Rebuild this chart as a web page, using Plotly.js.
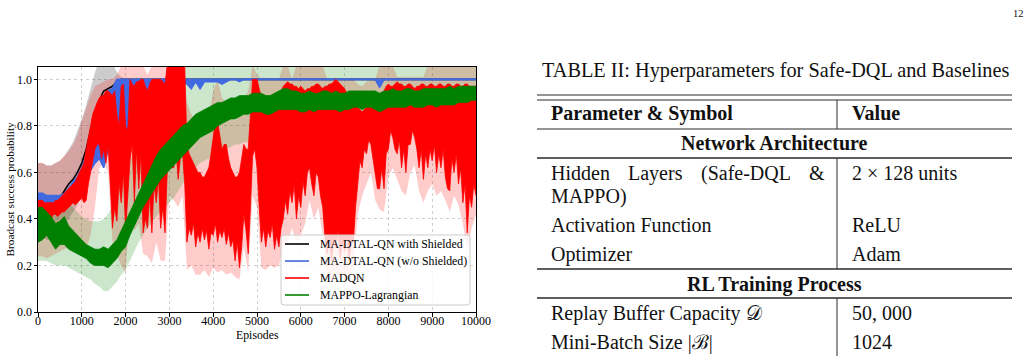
<!DOCTYPE html>
<html>
<head>
<meta charset="utf-8">
<script src="https://cdn.plot.ly/plotly-3.0.1.min.js"></script>
<style>
  html, body { margin: 0; padding: 0; background: #ffffff; }
  #page { width: 1032px; height: 356px; }
</style>
</head>
<body>
<div id="page"></div>
<script>
// Broadcast success probability over training.
// Most curves are sampled every 100 episodes; the very noisy MADQN edges every 50.
const STEP = 100;
const FINE_STEP = 50;

// MA-DTAL-QN with Shielded: mean curve and its spread
const shieldedMean = [
  .47,.47,.46,.46,.47,.49,.52,.55,.57,.60,
  .64,.70,.78,.85,.91,.95,.96,.97,.99,1.0,
  1.0,1.0,1.0,1.0,1.0,1.0,1.0,1.0,1.0,1.0,
  1.0,1.0,1.0,1.0,1.0,1.0,1.0,1.0,1.0,1.0,
  1.0,1.0,1.0,1.0,1.0,1.0,1.0,1.0,1.0,1.0,
  1.0,1.0,1.0,1.0,1.0,1.0,1.0,1.0,1.0,1.0,
  1.0,1.0,1.0,1.0,1.0,1.0,1.0,1.0,1.0,1.0,
  1.0,1.0,1.0,1.0,1.0,1.0,1.0,1.0,1.0,1.0,
  1.0,1.0,1.0,1.0,1.0,1.0,1.0,1.0,1.0,1.0,
  1.0,1.0,1.0,1.0,1.0,1.0,1.0,1.0,1.0,1.0,1.0
];
const shieldedBandHi = [
  .64,.64,.63,.63,.64,.65,.67,.70,.73,.78,
  .83,.89,.96,1.03,1.08,1.08,1.08,1.07,1.03,1.01,
  1.0,1.0,1.0,1.0,1.0,1.0,1.0,1.0,1.0,1.0,
  1.0,1.0,1.0,1.0,1.0,1.0,1.0,1.0,1.0,1.0,
  1.0,1.0,1.0,1.0,1.0,1.0,1.0,1.0,1.0,1.0,
  1.0,1.0,1.0,1.0,1.0,1.0,1.0,1.0,1.0,1.0,
  1.0,1.0,1.0,1.0,1.0,1.0,1.0,1.0,1.0,1.0,
  1.0,1.0,1.0,1.0,1.0,1.0,1.0,1.0,1.0,1.0,
  1.0,1.0,1.0,1.0,1.0,1.0,1.0,1.0,1.0,1.0,
  1.0,1.0,1.0,1.0,1.0,1.0,1.0,1.0,1.0,1.0,1.0
];
const shieldedBandLo = [
  .32,.32,.31,.31,.32,.34,.37,.40,.43,.46,
  .50,.55,.62,.69,.76,.83,.87,.90,.95,.99,
  1.0,1.0,1.0,1.0,1.0,1.0,1.0,1.0,1.0,1.0,
  1.0,1.0,1.0,1.0,1.0,1.0,1.0,1.0,1.0,1.0,
  1.0,1.0,1.0,1.0,1.0,1.0,1.0,1.0,1.0,1.0,
  1.0,1.0,1.0,1.0,1.0,1.0,1.0,1.0,1.0,1.0,
  1.0,1.0,1.0,1.0,1.0,1.0,1.0,1.0,1.0,1.0,
  1.0,1.0,1.0,1.0,1.0,1.0,1.0,1.0,1.0,1.0,
  1.0,1.0,1.0,1.0,1.0,1.0,1.0,1.0,1.0,1.0,
  1.0,1.0,1.0,1.0,1.0,1.0,1.0,1.0,1.0,1.0,1.0
];

// MA-DTAL-QN (w/o Shielded): upper and lower edge of the noisy curve
const unshieldedHi = [
  .51,.51,.50,.50,.50,.50,.51,.53,.56,.58,
  .62,.67,.74,.81,.88,.93,.95,.96,1.0,1.0,
  1.0,1.0,1.0,1.0,1.0,1.0,1.0,1.0,1.0,1.0,
  1.0,1.0,1.0,1.0,1.0,1.0,1.0,1.0,1.0,1.0,
  1.0,1.0,1.0,1.0,1.0,1.0,1.0,1.0,1.0,1.0,
  1.0,1.0,1.0,1.0,1.0,1.0,1.0,1.0,1.0,1.0,
  1.0,1.0,1.0,1.0,1.0,1.0,1.0,1.0,1.0,1.0,
  1.0,1.0,1.0,1.0,1.0,1.0,1.0,1.0,1.0,1.0,
  1.0,1.0,1.0,1.0,1.0,1.0,1.0,1.0,1.0,1.0,
  1.0,1.0,1.0,1.0,1.0,1.0,1.0,1.0,1.0,1.0,1.0
];
const unshieldedLo = [
  .46,.46,.46,.45,.46,.47,.48,.50,.52,.54,
  .56,.58,.61,.64,.66,.62,.70,.72,.68,.74,
  .77,.80,.72,.76,.82,.76,.88,.92,.95,.97,
  .98,.99,.99,.99,.98,.96,.99,.96,.99,.99,
  .99,.99,.98,.99,1.0,1.0,.99,1.0,1.0,1.0,
  1.0,1.0,1.0,1.0,1.0,1.0,1.0,1.0,1.0,1.0,
  1.0,1.0,1.0,1.0,1.0,1.0,1.0,1.0,1.0,1.0,
  1.0,1.0,1.0,1.0,1.0,1.0,1.0,1.0,.965,1.0,
  1.0,1.0,1.0,1.0,1.0,1.0,1.0,1.0,1.0,1.0,
  1.0,1.0,1.0,1.0,1.0,1.0,1.0,1.0,1.0,1.0,1.0
];

// MADQN: upper and lower edge of the noisy curve (every 50 episodes)
const madqnHi = [
  .48,.48,.48,.47,.47,.47,.47,.47,.48,.48,
  .49,.50,.51,.52,.53,.54,.55,.56,.58,.60,
  .62,.64,.70,.76,.80,.85,.88,.90,.92,.93,
  .93,.95,.95,.94,.93,.95,.85,.80,.97,.98,
  .80,.78,1.0,.98,.97,.99,.99,1.0,1.0,.97,
  .95,.98,1.0,1.0,1.0,1.0,1.0,.99,.98,1.06,
  1.06,1.06,1.06,1.06,1.06,1.06,1.06,1.06,.72,.68,
  .66,.64,.62,.60,.60,.58,.58,.60,.62,.68,
  .75,.82,.82,.75,.70,.72,.72,.66,.62,.60,
  .58,.58,.60,.66,.72,.70,.70,.85,1.0,1.0,
  1.0,.96,.92,.90,.90,.89,.90,.91,.92,.93,
  .93,.95,.97,.98,.99,.98,.98,.97,.97,.96,
  .97,.96,.95,.96,.96,.97,.97,.98,.98,.97,
  .96,.97,.97,.98,.98,.99,1.0,.99,.98,.97,
  .96,.94,.93,.94,.95,.92,.88,.87,.86,.87,
  .88,.90,.92,.91,.90,.92,.93,.94,.95,.97,
  .98,.97,.97,.98,.99,.98,.98,.97,.97,.98,
  .98,.97,.96,.97,.97,.98,.98,.97,.97,.98,
  .98,.97,.97,.98,.98,.97,.97,.98,.98,.97,
  .97,.98,.98,.97,.97,.98,.98,.97,.97,.97,
  .97
];
const madqnLo = [
  .41,.40,.40,.41,.40,.41,.40,.42,.42,.41,
  .42,.43,.43,.44,.45,.46,.47,.46,.47,.48,
  .49,.47,.48,.55,.60,.66,.70,.72,.72,.66,
  .70,.64,.72,.55,.36,.45,.39,.55,.47,.60,
  .35,.50,.65,.72,.47,.70,.53,.68,.34,.40,
  .36,.50,.34,.55,.47,.58,.36,.45,.34,.60,
  .68,.62,.62,.70,.57,.66,.68,.55,.30,.36,
  .33,.38,.28,.34,.30,.36,.31,.35,.27,.34,
  .33,.38,.30,.35,.32,.36,.29,.34,.28,.31,
  .22,.30,.19,.28,.42,.35,.25,.45,.67,.70,
  .62,.45,.30,.36,.28,.35,.32,.38,.27,.33,
  .28,.36,.40,.48,.42,.52,.47,.55,.40,.50,
  .45,.56,.50,.60,.62,.55,.50,.60,.58,.50,
  .45,.33,.25,.32,.22,.30,.28,.35,.23,.30,
  .26,.33,.22,.30,.30,.45,.55,.65,.62,.70,
  .68,.74,.72,.66,.60,.53,.53,.62,.53,.68,
  .70,.78,.75,.70,.68,.74,.62,.70,.60,.72,
  .72,.78,.75,.70,.62,.70,.57,.68,.62,.70,
  .65,.72,.60,.68,.62,.70,.58,.53,.52,.66,
  .60,.68,.55,.62,.47,.55,.34,.50,.45,.55,
  .50
];
// MADQN spread (every 100 episodes)
const madqnBandHi = [
  .64,.64,.63,.63,.64,.65,.67,.69,.72,.76,
  .82,.88,.93,.97,.98,.99,1.0,1.0,1.02,1.06,
  1.06,1.06,1.06,1.06,1.06,1.02,1.06,1.06,1.06,1.06,
  1.06,1.06,1.06,1.06,.90,.85,.82,.80,.80,.84,
  .95,1.0,.92,.90,.85,.82,.85,.92,.95,1.06,
  1.02,1.0,1.0,1.0,1.0,1.0,1.06,1.06,1.0,1.06,
  1.06,1.06,1.06,1.06,1.06,1.06,1.0,1.0,1.0,1.0,
  1.0,1.0,1.0,.98,.97,.99,1.0,1.0,1.06,1.06,
  1.06,1.06,1.01,1.01,1.01,1.01,1.01,1.01,1.01,1.06,
  1.06,1.06,1.06,1.06,1.06,1.06,1.06,1.06,1.06,1.06,1.06
];
const madqnBandLo = [
  .24,.24,.23,.24,.25,.26,.27,.28,.30,.30,
  .28,.27,.33,.45,.62,.64,.60,.30,.25,.20,
  .17,.45,.35,.38,.25,.24,.21,.30,.22,.22,
  .50,.48,.45,.50,.18,.20,.16,.16,.18,.15,
  .19,.17,.18,.16,.17,.15,.14,.28,.17,.50,
  .45,.19,.18,.20,.19,.20,.28,.30,.36,.30,
  .33,.38,.48,.40,.45,.33,.15,.12,.17,.13,
  .15,.13,.20,.42,.50,.55,.60,.48,.44,.43,
  .58,.62,.57,.52,.50,.60,.63,.52,.47,.52,
  .55,.50,.52,.48,.43,.50,.46,.38,.27,.36,.42
];

// MAPPO-Lagrangian: edges of the noisy curve and of its spread
const mappoHi = [
  .45,.45,.43,.41,.38,.39,.41,.37,.35,.33,
  .31,.29,.28,.27,.27,.28,.27,.29,.31,.35,
  .39,.43,.47,.51,.55,.59,.63,.67,.70,.72,
  .74,.76,.78,.80,.81,.83,.85,.86,.87,.88,
  .89,.90,.90,.91,.92,.92,.93,.93,.93,.94,
  .94,.94,.93,.93,.94,.95,.96,.96,.95,.95,
  .94,.94,.95,.94,.94,.95,.95,.94,.95,.94,
  .94,.95,.95,.95,.95,.95,.95,.95,.94,.95,
  .95,.96,.95,.95,.96,.96,.95,.95,.96,.96,
  .96,.96,.96,.96,.97,.96,.97,.97,.97,.97,.97
];
const mappoLo = [
  .30,.31,.33,.30,.27,.29,.29,.27,.26,.25,
  .24,.23,.21,.20,.20,.20,.19,.21,.23,.26,
  .28,.33,.37,.41,.45,.48,.51,.54,.57,.59,
  .61,.63,.65,.67,.69,.71,.73,.75,.76,.77,
  .78,.80,.81,.82,.83,.83,.84,.85,.85,.86,
  .86,.86,.85,.85,.86,.87,.87,.87,.87,.87,
  .86,.86,.87,.86,.87,.87,.87,.87,.87,.86,
  .87,.87,.88,.88,.87,.88,.88,.87,.86,.87,
  .88,.88,.88,.88,.88,.89,.88,.88,.88,.89,
  .89,.88,.89,.89,.89,.89,.90,.90,.90,.91,.91
];
const mappoBandHi = [
  .50,.51,.50,.49,.48,.48,.49,.47,.45,.43,
  .41,.40,.39,.39,.39,.40,.42,.46,.51,.56,
  .61,.65,.69,.73,.77,.81,.85,.89,.93,.96,
  .99,1.02,1.04,1.06,1.06,1.06,1.06,1.06,1.06,1.06,
  1.06,1.06,1.06,1.06,1.06,1.06,1.06,1.06,1.06,1.06,
  1.06,1.06,1.06,1.06,1.06,1.06,1.06,1.06,1.06,1.06,
  1.06,1.06,1.06,1.06,1.06,1.06,1.06,1.06,1.06,1.06,
  1.06,1.06,1.06,1.06,1.06,1.06,1.06,1.06,1.06,1.06,
  1.06,1.06,1.06,1.06,1.06,1.06,1.06,1.06,1.06,1.06,
  1.06,1.06,1.06,1.06,1.06,1.06,1.06,1.06,1.06,1.06,1.06
];
const mappoBandLo = [
  .22,.22,.22,.21,.20,.20,.20,.19,.18,.17,
  .16,.15,.14,.12,.11,.09,.09,.11,.13,.16,
  .18,.22,.26,.30,.33,.36,.39,.41,.43,.45,
  .47,.49,.52,.55,.58,.60,.62,.64,.65,.66,
  .67,.68,.69,.70,.71,.72,.72,.73,.73,.74,
  .74,.74,.74,.75,.75,.75,.76,.76,.76,.76,
  .76,.76,.77,.77,.77,.77,.77,.77,.77,.77,
  .77,.78,.78,.78,.78,.78,.78,.78,.78,.78,
  .78,.79,.79,.79,.79,.79,.79,.80,.80,.80,
  .80,.80,.80,.80,.81,.81,.81,.81,.81,.81,.81
];

const seriesNames = ["MA-DTAL-QN with Shielded", "MA-DTAL-QN (w/o Shielded)", "MADQN", "MAPPO-Lagrangian"];
const xTicks = [0, 1000, 2000, 3000, 4000, 5000, 6000, 7000, 8000, 9000, 10000];
const yTicks = [0.0, 0.2, 0.4, 0.6, 0.8, 1.0];
const xTitle = "Episodes";
const yTitle = "Broadcast success probability";

// Table content
const tableCaption = "TABLE II: Hyperparameters for Safe-DQL and Baselines";
const tableHeader = ["Parameter & Symbol", "Value"];
const tableSections = ["Network Architecture", "RL Training Process"];
const paramNames = ["Hidden Layers (Safe-DQL &", "MAPPO)", "Activation Function", "Optimizer", "Replay Buffer Capacity \u{1D49F}", "Mini-Batch Size |\u212C|"];
const paramValues = ["2 \u00D7 128 units", "", "ReLU", "Adam", "50, 000", "1024"];
const pageNumber = "12";

// ---------------------------------------------------------------------------
const episodes = shieldedMean.map((_, i) => i * STEP);
const fineEpisodes = madqnLo.map((_, i) => i * FINE_STEP);
const SERIF = "Liberation Serif, Times New Roman, serif";
const COLORS = { shielded: "#000000", unshielded: "#4169e1", madqn: "#ff0000", mappo: "#008000" };

function bandTraces(lo, hi, fill) {
  return [
    { x: episodes, y: lo, mode: "lines", line: { width: 0 }, showlegend: false, hoverinfo: "skip" },
    { x: episodes, y: hi, mode: "lines", line: { width: 0 }, fill: "tonexty", fillcolor: fill, showlegend: false, hoverinfo: "skip" }
  ];
}
function envelopeTraces(xs, lo, hi, color, width) {
  return [
    { x: xs, y: lo, mode: "lines", line: { color: color, width: width }, showlegend: false, hoverinfo: "skip" },
    { x: xs, y: hi, mode: "lines", line: { color: color, width: width }, fill: "tonexty", fillcolor: color, showlegend: false, hoverinfo: "skip" }
  ];
}

const traces = [].concat(
  bandTraces(shieldedBandLo, shieldedBandHi, "rgba(0,0,0,0.2)"),
  bandTraces(madqnBandLo, madqnBandHi, "rgba(255,0,0,0.2)"),
  bandTraces(mappoBandLo, mappoBandHi, "rgba(0,128,0,0.2)"),
  [{ x: episodes, y: shieldedMean, mode: "lines", line: { color: COLORS.shielded, width: 1.6 }, showlegend: false, hoverinfo: "skip" }],
  envelopeTraces(episodes, unshieldedLo, unshieldedHi, COLORS.unshielded, 1.6),
  envelopeTraces(fineEpisodes, madqnLo, madqnHi, COLORS.madqn, 0.8),
  envelopeTraces(episodes, mappoLo, mappoHi, COLORS.mappo, 0.8)
);

// Page geometry (pixels) and conversion into the chart's paper coordinates
const W = 1032, H = 356;
const PLOT = { left: 38, right: 476, top: 67, bottom: 312 };
const px = (x) => (x - PLOT.left) / (PLOT.right - PLOT.left);
const py = (y) => (PLOT.bottom - y) / (PLOT.bottom - PLOT.top);

const TXT = "#111111";
const RULE = "#2a2a2a";
const TABLE = { left: 537, right: 1012, split: 837, textL: 549, textR: 850 };

function hline(y, w) {
  return { type: "line", xref: "paper", yref: "paper", x0: px(TABLE.left), x1: px(TABLE.right), y0: py(y), y1: py(y), line: { color: RULE, width: w }, layer: "above" };
}
function vline(y0, y1) {
  return { type: "line", xref: "paper", yref: "paper", x0: px(TABLE.split), x1: px(TABLE.split), y0: py(y0), y1: py(y1), line: { color: RULE, width: 1 }, layer: "above" };
}
function label(text, x, y, size, anchor, color) {
  return { text: text, xref: "paper", yref: "paper", x: px(x), y: py(y), xanchor: anchor || "left", yanchor: "middle",
           showarrow: false, font: { family: SERIF, size: size, color: color || TXT } };
}

const shapes = [
  hline(95, 1.2), hline(100, 1.2), hline(129, 1), hline(158, 1.4), hline(269, 1.3), hline(298, 1.3),
  vline(100, 129), vline(158, 269), vline(298, H)
];

const BODY = 20;
const annotations = [
  label(tableCaption, 540, 70, 20.3),
  label("<b>" + tableHeader[0].replace("&", "&amp;") + "</b>", TABLE.textL, 113, BODY),
  label("<b>" + tableHeader[1] + "</b>", TABLE.textR, 113, BODY),
  label("<b>" + tableSections[0] + "</b>", (TABLE.left + TABLE.right) / 2, 143, BODY, "center"),
  label("<b>" + tableSections[1] + "</b>", (TABLE.left + TABLE.right) / 2, 284, BODY, "center"),
  label(pageNumber, 1018, 13, 10.5, "center"),
  // axis titles
  label(xTitle, (PLOT.left + PLOT.right) / 2, 335, 11.8, "center", "#000000"),
  Object.assign(label(yTitle, 9, (PLOT.top + PLOT.bottom) / 2, 11.3, "center", "#000000"), { textangle: -90 })
];

// Parameter rows; the first line is justified across the column like typeset text
const rowY = [173, 197, 225, 254, 313, 342];
const canvas = document.createElement("canvas");
const ctx = canvas.getContext("2d");
ctx.font = BODY + "px 'Liberation Serif'";
const justifyRight = 823;
paramNames.forEach((name, i) => {
  if (i === 0) {
    const words = name.split(" ");
    const widths = words.map(w => ctx.measureText(w).width);
    const total = widths.reduce((a, b) => a + b, 0);
    const gap = (justifyRight - TABLE.textL - total) / (words.length - 1);
    let x = TABLE.textL;
    words.forEach((w, k) => {
      annotations.push(label(w.replace("&", "&amp;"), x, rowY[i], BODY));
      x += widths[k] + gap;
    });
  } else {
    annotations.push(label(name, TABLE.textL, rowY[i], BODY));
  }
  if (paramValues[i]) annotations.push(label(paramValues[i], TABLE.textR, rowY[i], BODY));
});

// Legend box inside the chart, lower right
const LEG = { left: 281, right: 470, top: 235, bottom: 305, r: 3, lineX0: 285, lineX1: 309, textX: 318, rows: [244, 261, 278, 295] };
const legendColors = [COLORS.shielded, COLORS.unshielded, COLORS.madqn, COLORS.mappo];
(function () {
  const X = (v) => px(v), Y = (v) => py(v), r = LEG.r;
  const d = `M ${X(LEG.left + r)},${Y(LEG.top)} L ${X(LEG.right - r)},${Y(LEG.top)} ` +
            `Q ${X(LEG.right)},${Y(LEG.top)} ${X(LEG.right)},${Y(LEG.top + r)} ` +
            `L ${X(LEG.right)},${Y(LEG.bottom - r)} Q ${X(LEG.right)},${Y(LEG.bottom)} ${X(LEG.right - r)},${Y(LEG.bottom)} ` +
            `L ${X(LEG.left + r)},${Y(LEG.bottom)} Q ${X(LEG.left)},${Y(LEG.bottom)} ${X(LEG.left)},${Y(LEG.bottom - r)} ` +
            `L ${X(LEG.left)},${Y(LEG.top + r)} Q ${X(LEG.left)},${Y(LEG.top)} ${X(LEG.left + r)},${Y(LEG.top)} Z`;
  shapes.push({ type: "path", xref: "paper", yref: "paper", path: d, fillcolor: "rgba(255,255,255,0.8)",
                line: { color: "#cccccc", width: 1 }, layer: "above" });
  seriesNames.forEach((name, i) => {
    const y = LEG.rows[i];
    shapes.push({ type: "line", xref: "paper", yref: "paper", x0: X(LEG.lineX0), x1: X(LEG.lineX1), y0: Y(y), y1: Y(y),
                  line: { color: legendColors[i], width: 1.6 }, layer: "above" });
    annotations.push(label(name, LEG.textX, y, 11.8, "left", "#000000"));
  });
})();

const axisCommon = {
  showline: true, mirror: true, linecolor: "#000000", linewidth: 1,
  ticks: "outside", ticklen: 3.5, tickwidth: 1, tickcolor: "#000000",
  showgrid: true, gridcolor: "#c4c4c4", gridwidth: 0.8, griddash: "dot",
  zeroline: false, automargin: false,
  tickfont: { family: SERIF, size: 12, color: "#000000" }
};

const layout = {
  width: W, height: H,
  margin: { l: PLOT.left, r: W - PLOT.right, t: PLOT.top, b: H - PLOT.bottom },
  paper_bgcolor: "#ffffff", plot_bgcolor: "#ffffff",
  font: { family: SERIF, color: "#000000" },
  showlegend: false,
  xaxis: Object.assign({}, axisCommon, {
    range: [0, 10000], tickvals: xTicks, ticktext: xTicks.map(String), ticklabelstandoff: -6
  }),
  yaxis: Object.assign({}, axisCommon, {
    range: [0, 1.053], tickvals: yTicks, ticktext: yTicks.map(v => v.toFixed(1)), ticklabelstandoff: -1
  }),
  shapes: shapes,
  annotations: annotations
};

Plotly.newPlot("page", traces, layout, { staticPlot: true, displayModeBar: false });
</script>
</body>
</html>
